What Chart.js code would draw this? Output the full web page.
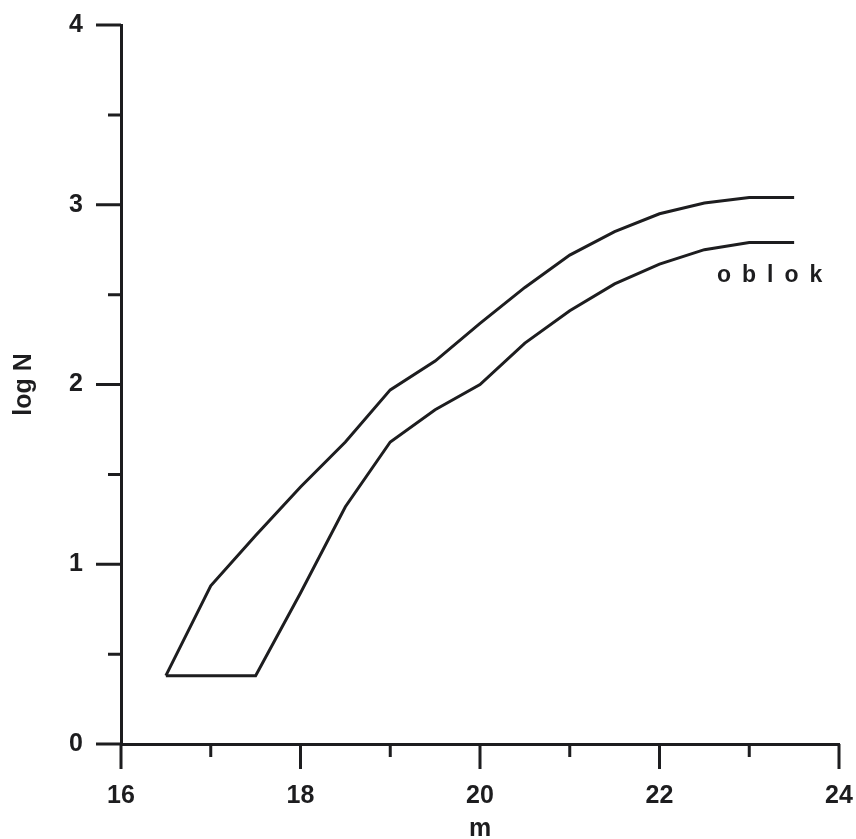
<!DOCTYPE html>
<html>
<head>
<meta charset="utf-8">
<script src="https://cdn.jsdelivr.net/npm/chart.js@4.4.1/dist/chart.umd.min.js"></script>
<style>
  html, body { margin: 0; padding: 0; background: #fff; }
  #wrap { width: 856px; height: 839px; }
</style>
</head>
<body>
<div id="wrap"><canvas id="chart" width="856" height="839"></canvas></div>
<script>
// krivky: horni a dolni mez
const upperM = [16.5, 17, 17.5, 18, 18.5, 19, 19.5, 20, 20.5, 21, 21.5, 22, 22.5, 23, 23.5];
const upperLogN = [0.38, 0.88, 1.16, 1.43, 1.68, 1.97, 2.13, 2.34, 2.54, 2.72, 2.85, 2.95, 3.01, 3.04, 3.04];
const lowerM = [16.5, 17.5, 18, 18.5, 19, 19.5, 20, 20.5, 21, 21.5, 22, 22.5, 23, 23.5];
const lowerLogN = [0.38, 0.38, 0.84, 1.32, 1.68, 1.86, 2.0, 2.23, 2.41, 2.56, 2.67, 2.75, 2.79, 2.79];

const xMajor = [16, 18, 20, 22, 24];
const xMinor = [17, 19, 21, 23];
const yMajor = [0, 1, 2, 3, 4];
const yMinor = [0.5, 1.5, 2.5, 3.5];

const ink = '#1d1d1f';
const fontFamily = '"Liberation Sans", Arial, sans-serif';

const toPoints = (xs, ys) => xs.map((x, i) => ({ x: x, y: ys[i] }));

// ticks.padding by jinak posunul okraje grafu
const noEdgePadding = (s) => {
    s.paddingTop = 0;
    s.paddingBottom = 0;
    s.paddingLeft = 0;
    s.paddingRight = 0;
};

// vlastni znacky os (dlouhe a kratke)
const tickMarks = {
    id: 'tickMarks',
    afterDraw(chart) {
        const { ctx, chartArea, scales: { x, y } } = chart;
        ctx.save();
        ctx.strokeStyle = ink;
        ctx.lineWidth = 3;
        ctx.beginPath();
        xMajor.forEach(v => { const px = x.getPixelForValue(v); ctx.moveTo(px, chartArea.bottom); ctx.lineTo(px, chartArea.bottom + 25); });
        xMinor.forEach(v => { const px = x.getPixelForValue(v); ctx.moveTo(px, chartArea.bottom); ctx.lineTo(px, chartArea.bottom + 13); });
        yMajor.forEach(v => { const py = y.getPixelForValue(v); ctx.moveTo(chartArea.left, py); ctx.lineTo(chartArea.left - 25, py); });
        yMinor.forEach(v => { const py = y.getPixelForValue(v); ctx.moveTo(chartArea.left, py); ctx.lineTo(chartArea.left - 13, py); });
        ctx.stroke();

        // popisek "oblok"
        ctx.fillStyle = ink;
        ctx.font = 'bold 23px ' + fontFamily;
        ctx.letterSpacing = '11px';
        ctx.textAlign = 'left';
        ctx.textBaseline = 'alphabetic';
        ctx.fillText('oblok', x.getPixelForValue(22.64), y.getPixelForValue(2.57));
        ctx.restore();
    }
};

const ctx = document.getElementById('chart').getContext('2d');
new Chart(ctx, {
    type: 'line',
    data: {
        datasets: [{
            data: toPoints(upperM, upperLogN),
            borderColor: ink,
            borderWidth: 3,
            pointRadius: 0,
            tension: 0,
            fill: false,
        }, {
            data: toPoints(lowerM, lowerLogN),
            borderColor: ink,
            borderWidth: 3,
            pointRadius: 0,
            tension: 0,
            fill: false,
        }]
    },
    options: {
        responsive: false,
        animation: false,
        layout: { padding: { top: 25, right: 17, left: 0, bottom: 0 } },
        plugins: { legend: { display: false }, tooltip: { enabled: false } },
        scales: {
            x: {
                type: 'linear',
                min: 16,
                max: 24,
                afterFit: (s) => { s.height = 95; noEdgePadding(s); },
                grid: { display: false, drawTicks: false },
                border: { display: true, color: ink, width: 3 },
                ticks: {
                    stepSize: 2,
                    padding: 37,
                    color: ink,
                    font: { family: fontFamily, size: 25, weight: 'bold' }
                },
                title: {
                    display: true,
                    text: 'm',
                    color: ink,
                    padding: 0,
                    font: { family: fontFamily, size: 25, weight: 'bold', lineHeight: 0.8 }
                }
            },
            y: {
                min: 0,
                max: 4,
                afterFit: (s) => { s.width = 121; noEdgePadding(s); },
                grid: { display: false, drawTicks: false },
                border: { display: true, color: ink, width: 3 },
                ticks: {
                    stepSize: 1,
                    padding: 38,
                    color: ink,
                    font: { family: fontFamily, size: 25, weight: 'bold' }
                },
                title: {
                    display: true,
                    text: 'log N',
                    color: ink,
                    padding: { top: 12, bottom: 0 },
                    font: { family: fontFamily, size: 25, weight: 'bold', lineHeight: 1 }
                }
            }
        }
    },
    plugins: [tickMarks]
});
</script>
</body>
</html>
